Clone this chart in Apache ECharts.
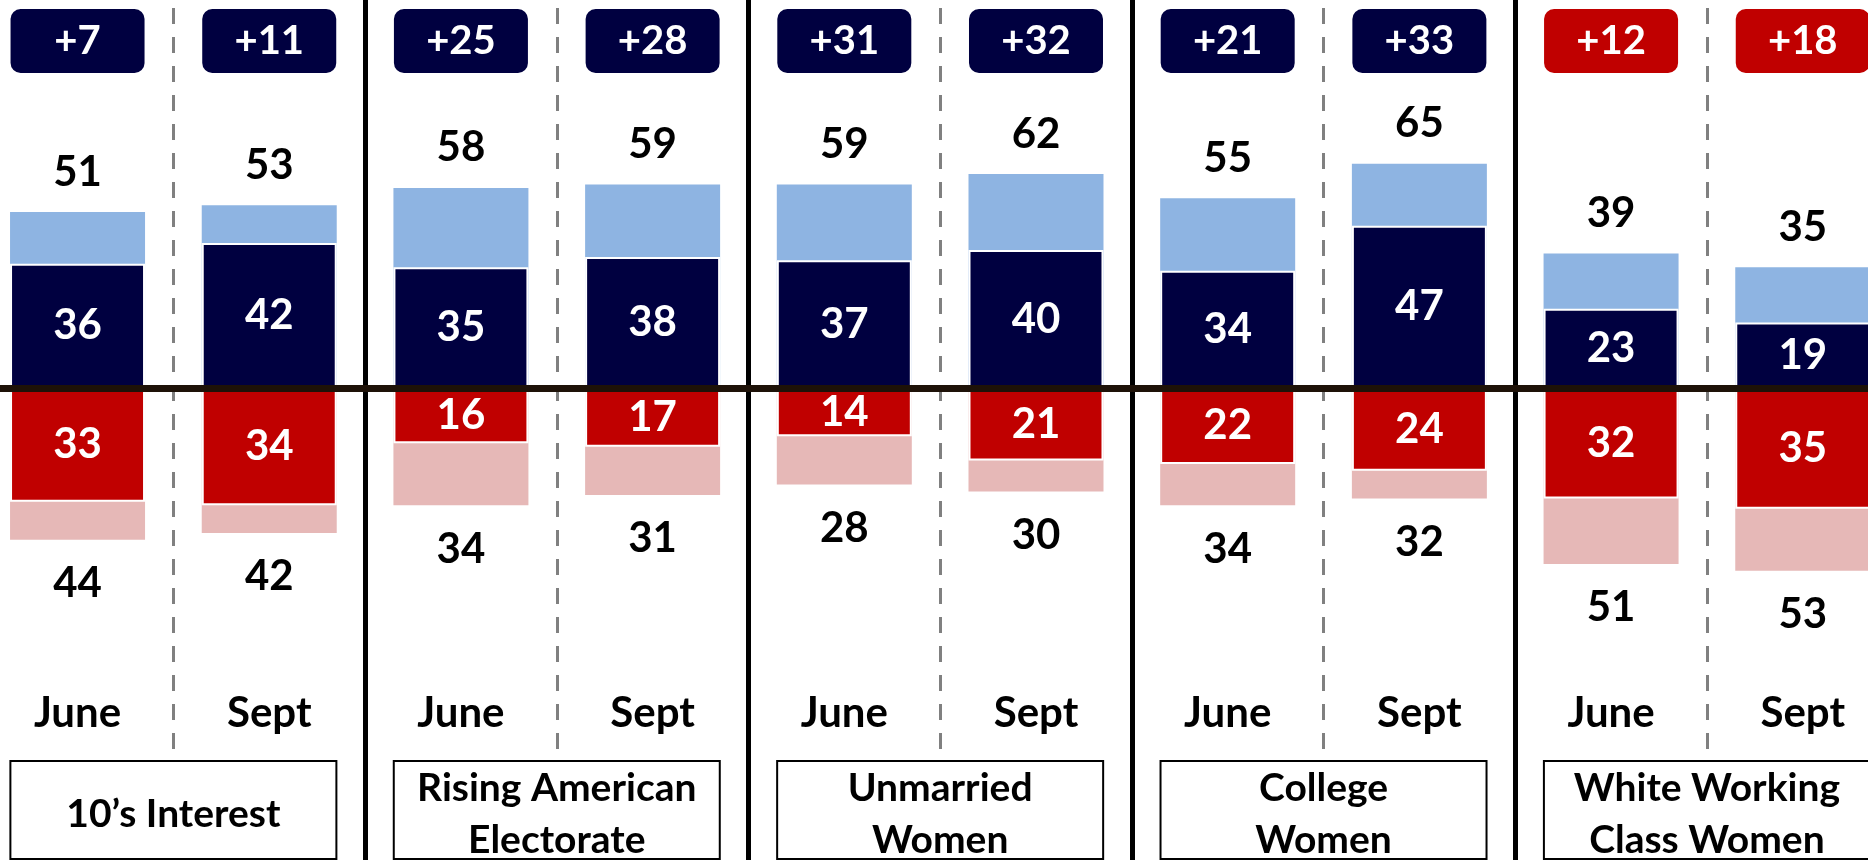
<!DOCTYPE html>
<html>
<head>
<meta charset="utf-8">
<script src="https://cdn.jsdelivr.net/npm/echarts@6/dist/echarts.min.js"></script>
<style>
  html, body { margin: 0; padding: 0; background: #ffffff; }
  #chart { width: 1868px; height: 860px; }
</style>
</head>
<body>
<div id="chart"></div>
<script>
// ---- data ----
var groups = ['10\u2019s Interest', 'Rising American\nElectorate', 'Unmarried\nWomen', 'College\nWomen', 'White Working\nClass Women'];
var periods = ['June', 'Sept'];
var demStrong = [36, 42, 35, 38, 37, 40, 34, 47, 23, 19];
var demTotal  = [51, 53, 58, 59, 59, 62, 55, 65, 39, 35];
var repStrong = [33, 34, 16, 17, 14, 21, 22, 24, 32, 35];
var repTotal  = [44, 42, 34, 31, 28, 30, 34, 32, 51, 53];
var margins   = ['+7', '+11', '+25', '+28', '+31', '+32', '+21', '+33', '+12', '+18'];

// ---- derived ----
var categories = [];
groups.forEach(function (g) { periods.forEach(function (p) { categories.push(g + ' ' + p); }); });

var NAVY = '#000040', RED = '#C00000', LBLUE = '#8EB4E2', PINK = '#E6B8B7';
var FONT = 'Lato';

var chart = echarts.init(document.getElementById('chart'), null, { renderer: 'canvas' });

var PX_PER_UNIT = 3.45, ZERO_Y = 388, H = 860;
var yMax = ZERO_Y / PX_PER_UNIT;
var yMin = -(H - ZERO_Y) / PX_PER_UNIT;
var GRID_LEFT = -18.3, GRID_W = 1916.9;

var bigLabel = { fontFamily: FONT, fontWeight: 'bold', fontSize: 42, lineHeight: 42 };

function neg(arr) { return arr.map(function (v) { return -v; }); }

var option = {
  backgroundColor: '#ffffff',
  animation: false,
  grid: [
    { left: GRID_LEFT, width: GRID_W, top: 0, height: H, containLabel: false, outerBoundsMode: 'none' },
    { left: GRID_LEFT, width: GRID_W, top: 8, height: 742, containLabel: false, outerBoundsMode: 'none' }
  ],
  xAxis: [
    { // zero line
      type: 'category', gridIndex: 0, data: categories, position: 'bottom', z: 5,
      axisLine: { onZero: true, lineStyle: { color: '#1E1208', width: 7 } },
      axisTick: { show: false },
      splitLine: { show: false },
      axisLabel: { show: false }
    },
    { // badges on top
      type: 'category', gridIndex: 0, data: categories, position: 'top',
      axisLine: { show: false }, axisTick: { show: false }, splitLine: { show: false },
      axisLabel: {
        inside: true, margin: 9, interval: 0,
        formatter: function (v, i) {
          return (demTotal[i] >= repTotal[i] ? '{d|' : '{r|') + margins[i] + '}';
        },
        rich: {
          d: { backgroundColor: NAVY, color: '#fff', width: 134, height: 64, lineHeight: 64, align: 'center',
               borderRadius: 10, fontSize: 40, fontWeight: 'bold', fontFamily: FONT },
          r: { backgroundColor: RED, color: '#fff', width: 134, height: 64, lineHeight: 64, align: 'center',
               borderRadius: 10, fontSize: 40, fontWeight: 'bold', fontFamily: FONT }
        }
      }
    },
    { // group boxes + solid separators
      type: 'category', gridIndex: 0, data: groups, position: 'bottom', offset: 0,
      axisLine: { show: false, onZero: false }, axisTick: { show: false },
      splitLine: { show: true, lineStyle: { color: '#000', width: 5 } },
      axisLabel: {
        inside: true, margin: 2, interval: 0,
        width: 324, height: 96,
        backgroundColor: '#fff', borderColor: '#000', borderWidth: 2,
        formatter: function (v) {
          var lines = v.split('\n');
          if (lines.length === 1) return '{one|' + lines[0] + '}';
          return lines.map(function (l) { return '{two|' + l + '}'; }).join('\n');
        },
        rich: {
          one: { fontFamily: FONT, fontWeight: 'bold', fontSize: 39, lineHeight: 104, color: '#000', align: 'center', width: 324 },
          two: { fontFamily: FONT, fontWeight: 'bold', fontSize: 39, lineHeight: 52, color: '#000', align: 'center', width: 324 }
        }
      }
    },
    { // dashed within-group separators
      type: 'category', gridIndex: 1, data: categories,
      axisLine: { show: false }, axisTick: { show: false }, axisLabel: { show: false },
      splitLine: { show: true, interval: function (i) { return i % 2 === 1; },
        lineStyle: { color: '#808080', width: 3, type: [16, 13] } }
    },
    { // June / Sept labels
      type: 'category', gridIndex: 0, data: categories, position: 'bottom', offset: 0,
      axisLine: { show: false, onZero: false }, axisTick: { show: false }, splitLine: { show: false },
      axisLabel: Object.assign({ inside: true, margin: 126, interval: 0, color: '#000',
        formatter: function (v, i) { return periods[i % 2]; } }, bigLabel)
    }
  ],
  yAxis: [
    { type: 'value', gridIndex: 0, min: yMin, max: yMax, show: false },
    { type: 'value', gridIndex: 1, min: 0, max: 1, show: false }
  ],
  series: [
    {
      name: 'Dem total', type: 'bar', xAxisIndex: 0, yAxisIndex: 0, data: demTotal,
      barWidth: 135, barGap: '-100%',
      itemStyle: { color: LBLUE },
      label: Object.assign({ show: true, position: 'top', distance: 19, color: '#000' }, bigLabel)
    },
    {
      name: 'Rep total', type: 'bar', xAxisIndex: 0, yAxisIndex: 0, data: neg(repTotal),
      barWidth: 135, barGap: '-100%',
      itemStyle: { color: PINK },
      label: Object.assign({ show: true, position: 'bottom', distance: 23, color: '#000',
        formatter: function (p) { return Math.abs(p.value); } }, bigLabel)
    },
    {
      name: 'Dem strong', type: 'bar', xAxisIndex: 0, yAxisIndex: 0, data: demStrong,
      barWidth: 135, barGap: '-100%',
      itemStyle: { color: NAVY, borderColor: '#fff', borderWidth: 2 },
      label: Object.assign({ show: true, position: 'inside', color: '#fff' }, bigLabel)
    },
    {
      name: 'Rep strong', type: 'bar', xAxisIndex: 0, yAxisIndex: 0, data: neg(repStrong),
      barWidth: 135, barGap: '-100%',
      itemStyle: { color: RED, borderColor: '#fff', borderWidth: 2 },
      label: Object.assign({ show: true, position: 'inside', color: '#fff',
        formatter: function (p) { return Math.abs(p.value); } }, bigLabel)
    }
  ]
};
chart.setOption(option);
</script>
</body>
</html>
